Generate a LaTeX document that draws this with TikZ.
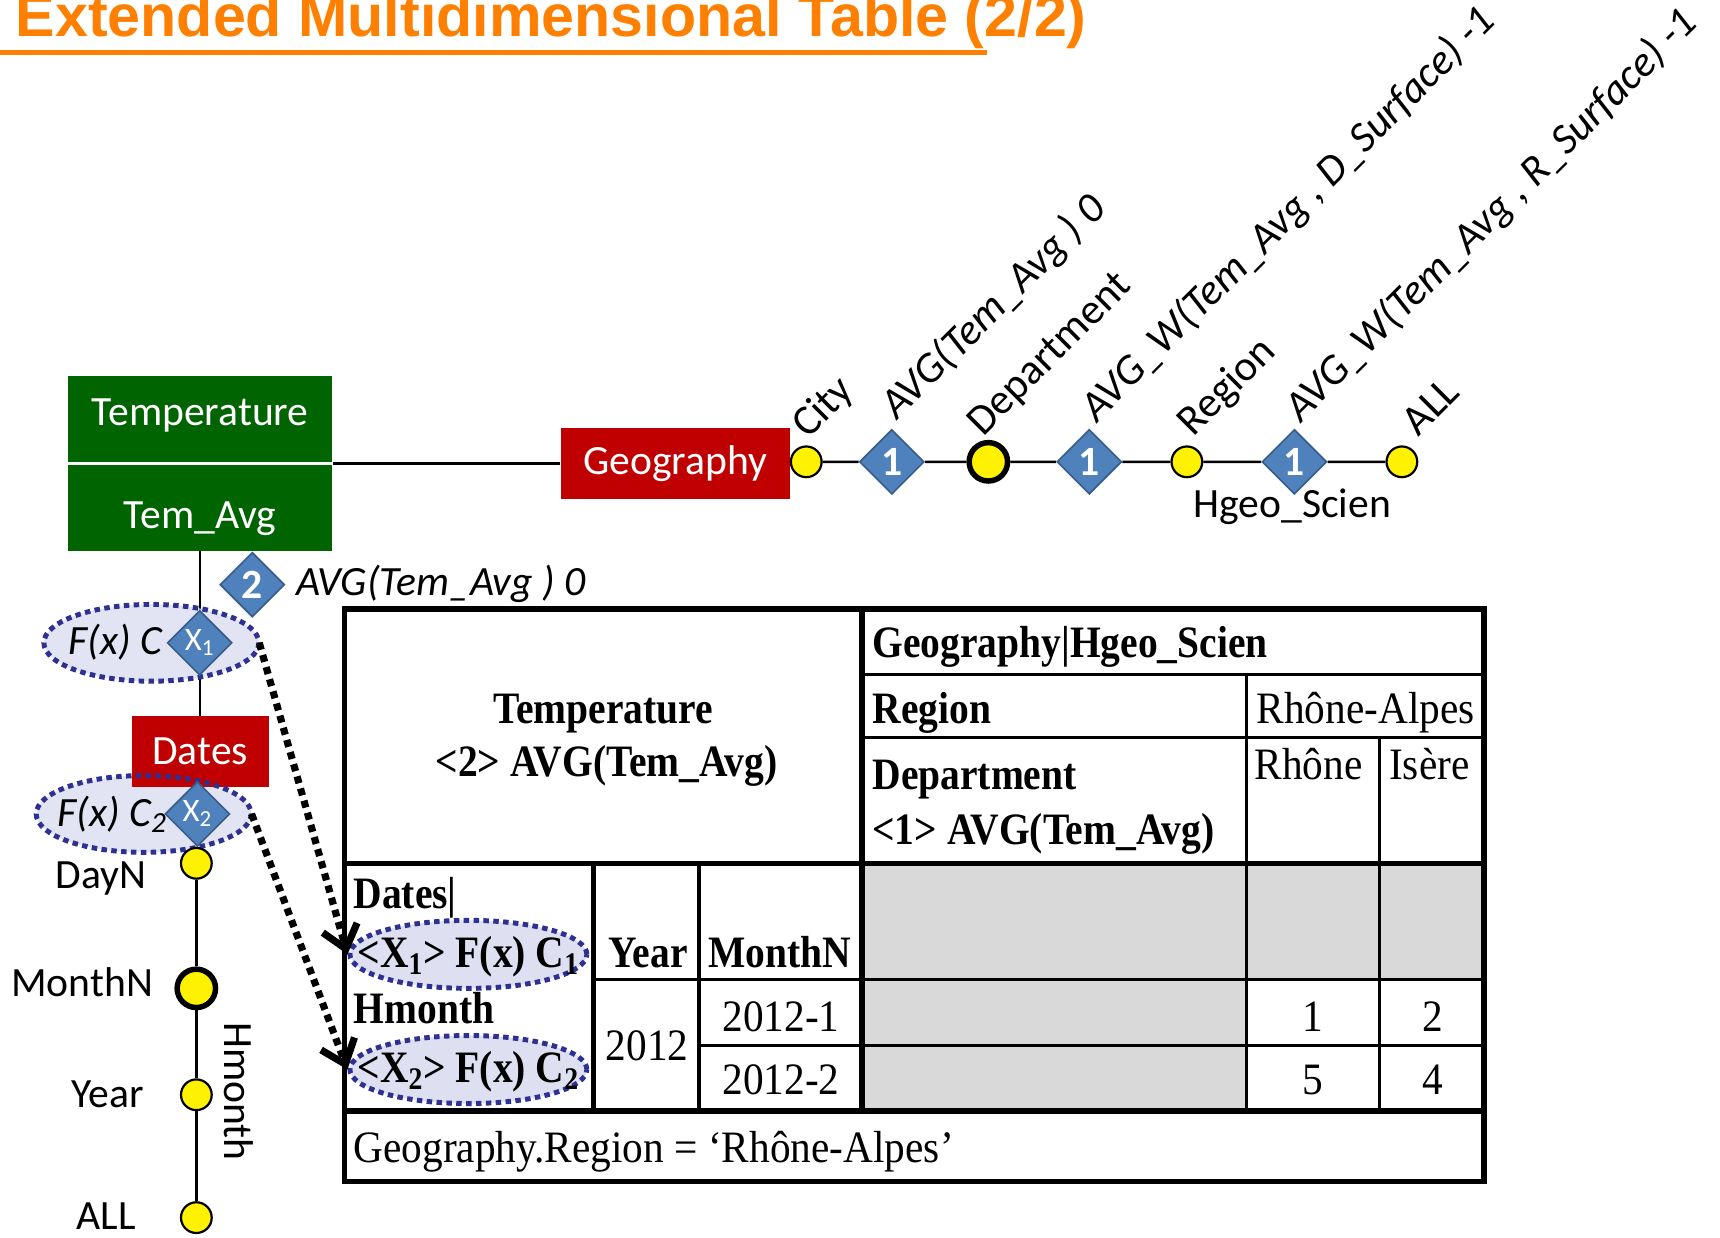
\documentclass[tikz,border=0pt]{standalone}
\usepackage{fontspec}
\setmainfont{Carlito}
\newfontfamily\headfont{Liberation Sans}
\newfontfamily\serifR[FakeStretch=0.92]{Liberation Serif}
\newfontfamily\serifB[FakeStretch=0.88]{Liberation Serif}
\usetikzlibrary{shapes.geometric,arrows.meta}
\pgfdeclarelayer{paper}
\pgfdeclarelayer{wires}
\pgfsetlayers{paper,wires,main}

\definecolor{titleorange}{RGB}{255,128,0}
\definecolor{factgreen}{RGB}{0,100,0}
\definecolor{dimred}{RGB}{192,0,0}
\definecolor{aggblue}{RGB}{79,129,189}
\definecolor{aggedge}{RGB}{56,93,138}
\definecolor{dotblue}{RGB}{46,49,146}
\definecolor{ellfill}{RGB}{222,224,242}
\definecolor{cellgray}{RGB}{217,217,217}

\newcommand{\lblfont}{\fontsize{21.6pt}{26pt}\selectfont}
\newcommand{\diagfont}{\fontsize{22.2pt}{27pt}\selectfont}
\newcommand{\tabreg}{\serifR\fontsize{23.3pt}{28pt}\selectfont}
\newcommand{\tabbf}{\serifB\bfseries\fontsize{23.3pt}{28pt}\selectfont}

\begin{document}
\begin{tikzpicture}[x=0.2mm,y=-0.2mm,
  lbl/.style={inner sep=0pt,font=\lblfont},
  ilbl/.style={inner sep=0pt,font=\lblfont\itshape},
  dimbox/.style={inner sep=0pt,text=white,font=\lblfont},
  lvl/.style={circle,fill=yellow,draw=black,line width=0.4mm,minimum size=5.6mm,inner sep=0pt},
  keylvl/.style={lvl,line width=1mm,minimum size=7mm},
  agg/.style={diamond,aspect=1,fill=aggblue,draw=aggedge,line width=0.3mm,minimum size=11.8mm,inner sep=0pt,text=white,font=\lblfont\bfseries},
  xagg/.style={agg,font=\fontsize{17pt}{20pt}\selectfont},
  fxell/.style={ellipse,fill=ellfill,inner sep=0pt},
  fxline/.style={draw=dotblue,line width=0.9mm,dash pattern=on 1mm off 0.8mm},
  tr/.style={inner sep=0pt,font=\tabreg},
  tb/.style={inner sep=0pt,font=\tabbf},
  rot/.style={inner sep=0pt,font=\diagfont,rotate=45,anchor=base west},
  irot/.style={inner sep=0pt,font=\diagfont\itshape,rotate=45,anchor=base west},
  tline/.style={line width=0.55mm},
  tmid/.style={line width=0.75mm},
  tthick/.style={line width=1mm},
  wire/.style={line width=0.45mm},
  hop/.style={line width=1.3mm,dash pattern=on 1.3mm off 1mm,-{Straight Barb[length=4mm,width=6.5mm]}},
]
\useasboundingbox (0,0) rectangle (1568,1128);
\clip (0,0) rectangle (1568,1128);
\begin{pgfonlayer}{paper}
  \fill[white] (0,0) rectangle (1568,1128);
\end{pgfonlayer}

% heading
\node[anchor=base west,inner sep=0pt,text=titleorange,font=\headfont\bfseries\fontsize{30.7pt}{36pt}\selectfont] (title) at (14,33) {Extended Multidimensional Table (2/2)};
\draw[titleorange,line width=0.8mm] (0,48) -- (900,48);

% fact
\node[fill=factgreen,minimum width=48.2mm,minimum height=31.8mm,inner sep=0pt] (fact) at (182.5,422.5) {};
\draw[white,line width=0.6mm] (fact.west) -- (fact.east);
\node[lbl,text=white,anchor=base] (factname) at (182.5,388) {Temperature};
\node[lbl,text=white,anchor=base] (measure) at (182.5,482) {Tem\_Avg};

% Geography dimension
\node[dimbox,fill=dimred,minimum width=41.8mm,minimum height=13mm] (geo) at (615.5,422.5) {Geography};
\node[lvl] (city) at (735,421) {};
\node[agg] (g1) at (813,421) {1};
\node[keylvl] (dept) at (901,421) {};
\node[agg] (g2) at (993,421) {1};
\node[lvl] (region) at (1082,421) {};
\node[agg] (g3) at (1180,421) {1};
\node[lvl] (gall) at (1278,421) {};

\node[rot] (lcity) at (737,401) {City};
\node[irot] (lg1) at (818,384) {AVG(Tem\_Avg ) 0};
\node[rot] (ldept) at (896,399) {Department};
\node[irot] (lg2) at (1000,386) {AVG\_W(Tem\_Avg , D\_Surface) -1};
\node[rot] (lregion) at (1088,399) {Region};
\node[irot] (lg3) at (1186,386) {AVG\_W(Tem\_Avg , R\_Surface) -1};
\node[rot] (lgall) at (1293,399) {ALL};
\node[lbl,anchor=base] (hgeo) at (1178,472) {Hgeo\_Scien};

% Dates dimension
\node[fxell,minimum width=39.2mm,minimum height=14mm,fill opacity=0.85] (fx1) at (138,586) {};
\node[fxell,minimum width=39.2mm,minimum height=14mm,fill opacity=0.85] (fx2) at (131,742) {};
\node[dimbox,fill=dimred,minimum width=25mm,minimum height=12.8mm] (dates) at (182.5,685) {Dates};
\draw[fxline] (fx1.center) ellipse [x radius=98,y radius=35];
\draw[fxline] (fx2.center) ellipse [x radius=98,y radius=35];
\node[ilbl,anchor=base west] (fxc1) at (62,597) {F(x) C};
\node[ilbl,anchor=base west] (fxc2) at (52,753) {F(x) C\textsubscript{2}};

\node[agg] (t2) at (230,533) {2};
\node[ilbl,anchor=base west] (lt2) at (270,543) {AVG(Tem\_Avg ) 0};
\node[xagg] (x1) at (182,586) {X\textsubscript{1}};
\node[xagg] (x2) at (180,742) {X\textsubscript{2}};

\node[lvl] (dayn) at (179,787) {};
\node[keylvl] (monthn) at (179,901) {};
\node[lvl] (year) at (179,998) {};
\node[lvl] (tall) at (179,1110) {};
\node[lbl,anchor=base] (ldayn) at (92,810) {DayN};
\node[lbl,anchor=base] (lmonthn) at (75,908) {MonthN};
\node[lbl,anchor=base] (lyear) at (98,1010) {Year};
\node[lbl,anchor=base] (ltall) at (97,1121) {ALL};
\node[lbl,rotate=-90] (hmonth) at (218,995) {Hmonth};

\begin{pgfonlayer}{wires}
  \draw[wire] (fact.east) -- (geo.west);
  \draw[wire] (geo.east) -- (city) -- (g1) -- (dept) -- (g2) -- (region) -- (g3) -- (gall);
  \draw[wire] (fact.south) -- (dates.north);
  \draw[line width=0.55mm] (dates.south -| dayn) -- (dayn) -- (monthn) -- (year) -- (tall);
\end{pgfonlayer}

% multidimensional table
\fill[cellgray] (786,787) rectangle (1353,893);
\fill[cellgray] (786,893) rectangle (1136,1013);
\draw[tline] (786,615) -- (1353,615);
\draw[tline] (786,672) -- (1353,672);
\draw[tline] (1136,615) -- (1136,1013);
\draw[tline] (1258,672) -- (1258,1013);
\draw[tline] (541,893) -- (1353,893);
\draw[tline] (637,953) -- (1353,953);
\draw[tmid] (541,787) -- (541,1013);
\draw[tmid] (637,787) -- (637,1013);
\draw[tthick] (786,555) -- (786,1013);
\draw[tthick] (314,787) -- (1353,787);
\draw[tthick] (314,1013) -- (1353,1013);
\draw[tthick] (314,555) rectangle (1353,1077);

\node[tb,anchor=base] (hfact) at (550,660) {Temperature};
\node[tb,anchor=base] (hmeas) at (553,708) {<2> AVG(Tem\_Avg)};
\node[tb,anchor=base west] (hgeoh) at (795,599) {Geography|Hgeo\_Scien};
\node[tb,anchor=base west] (hreg) at (795,660) {Region};
\node[tr,anchor=base] (vreg) at (1245,660) {Rhône-Alpes};
\node[tb,anchor=base west] (hdep) at (795,720) {Department};
\node[tb,anchor=base west] (hdepagg) at (795,770) {<1> AVG(Tem\_Avg)};
\node[tr,anchor=base] (vrh) at (1193,711) {Rhône};
\node[tr,anchor=base] (vis) at (1303,711) {Isère};

\node[tb,anchor=base west] (hdates) at (322,828) {Dates|};
\node[fxell,fxline,minimum width=43.2mm,minimum height=12.4mm] (tx1) at (427,870) {};
\node[tb,anchor=base] (ttx1) at (427,882) {<X\textsubscript{1}> F(x) C\textsubscript{1}};
\node[tb,anchor=base west] (hhm) at (322,933) {Hmonth};
\node[fxell,fxline,minimum width=43.2mm,minimum height=12.4mm] (tx2) at (427,975) {};
\node[tb,anchor=base] (ttx2) at (427,987) {<X\textsubscript{2}> F(x) C\textsubscript{2}};

\node[tb,anchor=base] (hyear) at (591,882) {Year};
\node[tb,anchor=base] (hmn) at (711,882) {MonthN};
\node[tr,anchor=base] (vyear) at (590,967) {2012};
\node[tr,anchor=base] (vm1) at (712,940) {2012-1};
\node[tr,anchor=base] (vm2) at (712,998) {2012-2};
\node[tr,anchor=base] (c11) at (1197,940) {1};
\node[tr,anchor=base] (c12) at (1306,940) {2};
\node[tr,anchor=base] (c21) at (1197,998) {5};
\node[tr,anchor=base] (c22) at (1306,998) {4};
\node[tr,anchor=base west] (sel) at (322,1060) {Geography.Region = ‘Rhône-Alpes’};

% functions applied to the Dates dimension
\draw[hop] (fx1.east) -- (tx1.west);
\draw[hop] (fx2.east) -- (tx2.west);
\end{tikzpicture}
\end{document}
